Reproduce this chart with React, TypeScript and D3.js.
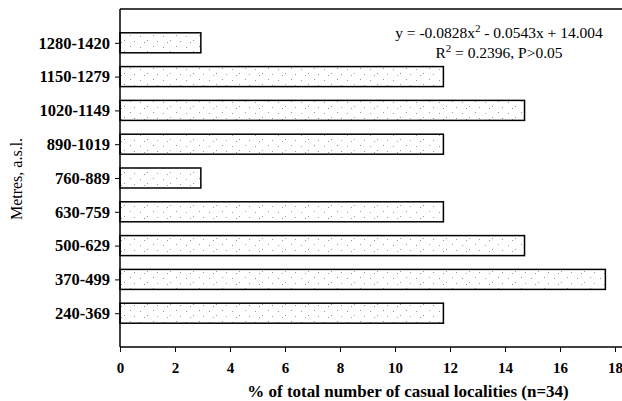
import React, { useRef, useEffect } from 'react';
import * as d3 from 'd3';

const categories = [
  '1280-1420', '1150-1279', '1020-1149', '890-1019', '760-889',
  '630-759', '500-629', '370-499', '240-369',
];
const percents = [2.94, 11.76, 14.71, 11.76, 2.94, 11.76, 14.71, 17.65, 11.76];
const xTicks = [0, 2, 4, 6, 8, 10, 12, 14, 16, 18];
const equationLines = ['y = -0.0828x', ' - 0.0543x + 14.004'];

const WIDTH = 622;
const HEIGHT = 401;
const LEFT = 120;
const TOP = 9;
const BOTTOM = 347;
const FONT = '"Liberation Serif", "DejaVu Serif", serif';

export default function App() {
  const ref = useRef<SVGSVGElement>(null);

  useEffect(() => {
    const svg = d3.select(ref.current).attr('width', WIDTH).attr('height', HEIGHT);
    svg.selectAll('*').remove();

    const x = d3.scaleLinear().domain([0, 18]).range([LEFT, 615]);
    const y = d3.scalePoint<string>().domain(categories).range([TOP, BOTTOM]).padding(1);
    const barH = 20;

    // speckled fill like the scanned original
    const defs = svg.append('defs');
    const pat = defs.append('pattern')
      .attr('id', 'speckle')
      .attr('patternUnits', 'userSpaceOnUse')
      .attr('width', 23).attr('height', 11);
    pat.append('rect').attr('width', 23).attr('height', 11).attr('fill', '#fff');
    [[2, 3], [9, 7], [15, 2], [19, 8], [6, 9]].forEach(([px, py]) => {
      pat.append('rect').attr('x', px).attr('y', py).attr('width', 1).attr('height', 1).attr('fill', '#999');
    });

    // frame lines
    svg.append('line')
      .attr('x1', LEFT).attr('x2', WIDTH).attr('y1', TOP).attr('y2', TOP)
      .attr('stroke', '#000').attr('stroke-width', 1.5);

    svg.append('g')
      .selectAll('rect')
      .data(percents)
      .join('rect')
      .attr('x', x(0))
      .attr('y', (_, i) => (y(categories[i]) as number) - barH / 2)
      .attr('width', d => x(d) - x(0))
      .attr('height', barH)
      .attr('fill', 'url(#speckle)')
      .attr('stroke', '#000')
      .attr('stroke-width', 1.5);

    const xAxis = svg.append('g')
      .attr('transform', `translate(0,${BOTTOM})`)
      .call(d3.axisBottom(x).tickValues(xTicks).tickSize(5).tickSizeOuter(0).tickPadding(10));
    xAxis.select('.domain').attr('d', `M${LEFT},0H${WIDTH}`).attr('stroke-width', 1.5);
    xAxis.selectAll('.tick text').attr('font-size', 15);

    const yAxis = svg.append('g')
      .attr('transform', `translate(${LEFT},0)`)
      .call(d3.axisLeft(y).tickSize(5).tickSizeOuter(0).tickPadding(5));
    yAxis.select('.domain').attr('d', `M0,${TOP}V${BOTTOM}`).attr('stroke-width', 1.5);
    yAxis.selectAll('.tick text').attr('font-size', 16.5);

    svg.selectAll('.tick text')
      .attr('font-family', FONT)
      .attr('font-weight', 'bold')
      .attr('fill', '#000');

    svg.append('text')
      .attr('x', 408)
      .attr('y', 397)
      .attr('text-anchor', 'middle')
      .attr('font-family', FONT)
      .attr('font-size', 17)
      .attr('font-weight', 'bold')
      .text('% of total number of casual localities (n=34)');

    svg.append('text')
      .attr('transform', 'translate(22,179) rotate(-90)')
      .attr('text-anchor', 'middle')
      .attr('font-family', FONT)
      .attr('font-size', 16)
      .text('Metres, a.s.l.');

    // regression annotation
    const eq = svg.append('text')
      .attr('x', 499).attr('y', 38)
      .attr('text-anchor', 'middle')
      .attr('font-family', FONT)
      .attr('font-size', 15.5);
    eq.append('tspan').text(equationLines[0]);
    eq.append('tspan').attr('dy', -6).attr('font-size', 11).text('2');
    eq.append('tspan').attr('dy', 6).text(equationLines[1]);

    const r2 = svg.append('text')
      .attr('x', 499).attr('y', 58)
      .attr('text-anchor', 'middle')
      .attr('font-family', FONT)
      .attr('font-size', 15.5);
    r2.append('tspan').text('R');
    r2.append('tspan').attr('dy', -6).attr('font-size', 11).text('2');
    r2.append('tspan').attr('dy', 6).text(' = 0.2396, P>0.05');
  }, []);

  return (
    <div style={{ position: 'absolute', left: 0, top: 0 }}>
      <svg ref={ref} style={{ display: 'block', background: '#fff' }}></svg>
    </div>
  );
}
